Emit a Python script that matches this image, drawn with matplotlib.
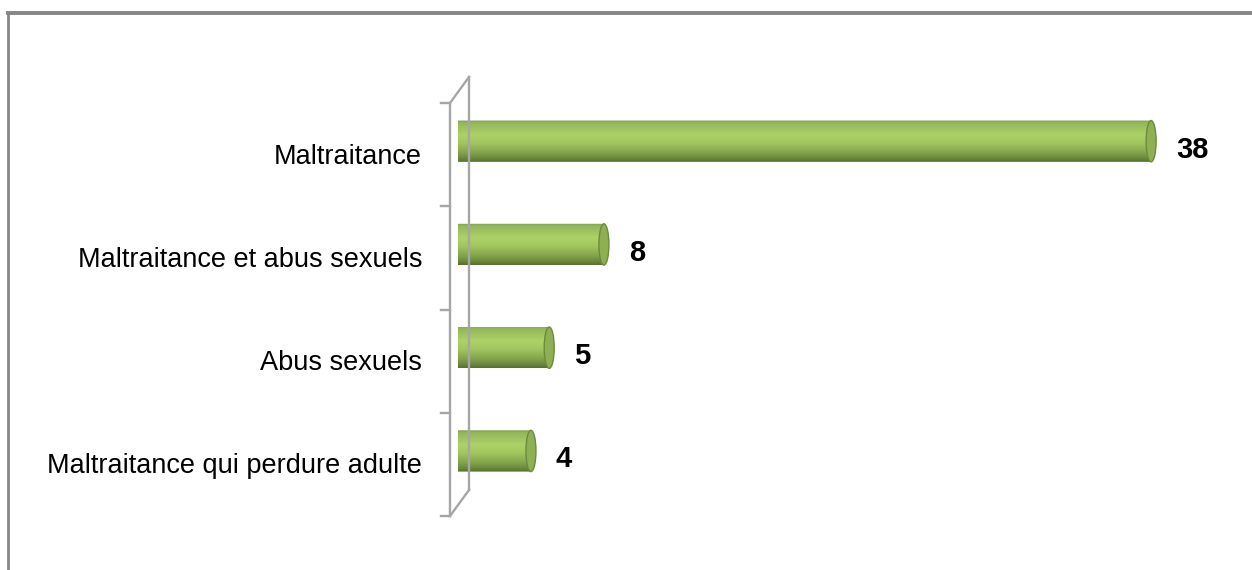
import numpy as np
import matplotlib
matplotlib.use('Agg')
import matplotlib.pyplot as plt
from matplotlib.colors import LinearSegmentedColormap
from matplotlib.patches import PathPatch, Ellipse
from matplotlib.path import Path
from matplotlib.lines import Line2D

# data
categories = ['Maltraitance', 'Maltraitance et abus sexuels', 'Abus sexuels',
              'Maltraitance qui perdure adulte']
values = [38, 8, 5, 4]

FONT = ['Liberation Sans', 'DejaVu Sans']
plt.rcParams['font.family'] = FONT

W, H = 1252, 570
fig = plt.figure(figsize=(W / 100, H / 100), dpi=100)
fig.patch.set_facecolor('white')

# axes: x zero at 458px, 18.24 px per unit; y boundaries at 103..516 px
px_per_unit = 18.24
xmax = 42
ax = fig.add_axes([458 / W, (H - 516) / H, xmax * px_per_unit / W, 413 / H])
ax.set_xlim(0, xmax)
ax.set_ylim(len(categories) - 0.5, -0.5)
ax.axis('off')

# cylinder look
grad = LinearSegmentedColormap.from_list('cyl', [
    (0.00, '#7f9a55'), (0.06, '#93b65a'), (0.35, '#acd267'), (0.55, '#a2c65f'),
    (0.80, '#80a049'), (0.93, '#668339'), (1.00, '#566f33')])
gimg = np.linspace(0, 1, 256).reshape(-1, 1)

bar_h = 0.40
depth = 0.13            # bars sit toward the back wall
rx = 5 / px_per_unit    # half width of end ellipses in data units

for i, (cat, v) in enumerate(zip(categories, values)):
    yc = i - depth
    top, bot = yc - bar_h / 2, yc + bar_h / 2
    t = np.linspace(np.pi / 2, 3 * np.pi / 2, 40)
    xs = list(rx * np.cos(t)) + [v, v]
    ys = list(yc - (bar_h / 2) * np.sin(t)) + [bot, top]
    clip = PathPatch(Path(np.column_stack([xs, ys]), closed=False),
                     transform=ax.transData, facecolor='none', edgecolor='none')
    ax.add_patch(clip)
    im = ax.imshow(gimg, cmap=grad, aspect='auto', extent=(-rx, v, bot, top),
                   origin='upper', zorder=3)
    im.set_clip_path(clip)
    ax.add_patch(Ellipse((v, yc), 2 * rx, bar_h, facecolor='#8fb052',
                         edgecolor='#6d8a3c', lw=1.0, zorder=4))
    ax.annotate(str(v), xy=(v, yc), xytext=(18, -6), textcoords='offset points',
                va='center', ha='left', fontsize=21, fontweight='bold',
                color='black', family=FONT)
    ax.text(-36 / px_per_unit, i + 0.02, cat, ha='right', va='center', fontsize=19.5,
            color='black', family=FONT)

# 3d wall lines (decoration)
fig.canvas.draw()
inv = fig.transFigure.inverted()


def disp(x, y):
    return ax.transData.transform((x, y))


wall = '#a6a6a6'
n = len(categories)
front_x = disp(0, 0)[0] - 8
back_x = disp(0, 0)[0] + 11
y_top = disp(0, -0.5)[1]
y_bot = disp(0, n - 0.5)[1]
segs = [((front_x, y_top), (front_x, y_bot)),
        ((back_x, y_top + 26), (back_x, y_bot + 26)),
        ((front_x, y_top), (back_x, y_top + 26)),
        ((front_x, y_bot), (back_x, y_bot + 26))]
for k in range(n + 1):
    yk = disp(0, k - 0.5)[1]
    segs.append(((front_x - 9, yk), (front_x, yk)))
for a, b in segs:
    p = inv.transform([a, b])
    fig.add_artist(Line2D(p[:, 0], p[:, 1], color=wall, lw=1.7, zorder=1))

# outer frame (cropped)
fig.add_artist(Line2D([8 / W, 1], [1 - 13 / H, 1 - 13 / H], color='#868686', lw=2.8))
fig.add_artist(Line2D([8 / W, 8 / W], [0, 1 - 13 / H], color='#868686', lw=2.0))

fig.savefig('out.png', dpi=100)
